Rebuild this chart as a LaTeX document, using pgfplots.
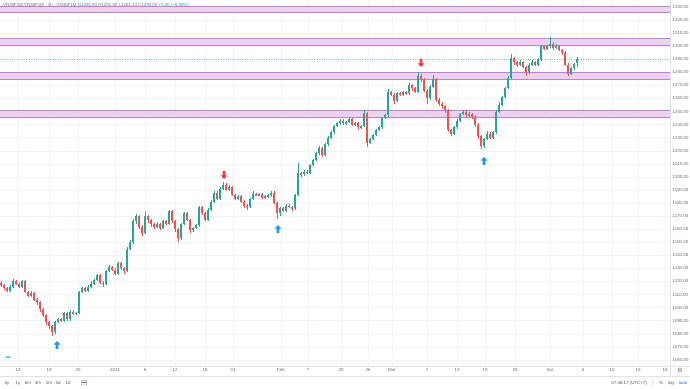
\documentclass[border=0pt]{standalone}
\usepackage{fontspec}
\setmainfont{Liberation Sans}
\newfontfamily\dejavu{DejaVu Sans}
\usepackage{pgfplots}
\usepackage{pgfplotstable}
\pgfplotsset{compat=1.18}
\definecolor{upc}{HTML}{26A69A}
\definecolor{dnc}{HTML}{EF5350}
\definecolor{gridc}{HTML}{F0F3FA}
\definecolor{bandfill}{HTML}{EBD3F0}
\definecolor{bandline}{HTML}{C27FD4}
\definecolor{txtc}{HTML}{6A6D78}
\definecolor{sepc}{HTML}{E0E3EB}
\definecolor{arrred}{HTML}{F23645}
\definecolor{arrblue}{HTML}{2196F3}
\definecolor{tvblue}{HTML}{2962FF}
\newcommand\tvf{\fontsize{4.4}{5.2}\selectfont}

\pgfdeclareplotmark{tvup}{%
  \pgfpathmoveto{\pgfpoint{0pt}{4pt}}%
  \pgfpathlineto{\pgfpoint{3.3pt}{0.4pt}}%
  \pgfpathlineto{\pgfpoint{1.3pt}{0.4pt}}%
  \pgfpathlineto{\pgfpoint{1.3pt}{-4pt}}%
  \pgfpathlineto{\pgfpoint{-1.3pt}{-4pt}}%
  \pgfpathlineto{\pgfpoint{-1.3pt}{0.4pt}}%
  \pgfpathlineto{\pgfpoint{-3.3pt}{0.4pt}}%
  \pgfpathclose\pgfusepathqfill}
\pgfdeclareplotmark{tvdown}{%
  \pgfpathmoveto{\pgfpoint{0pt}{-4pt}}%
  \pgfpathlineto{\pgfpoint{3.3pt}{-0.4pt}}%
  \pgfpathlineto{\pgfpoint{1.3pt}{-0.4pt}}%
  \pgfpathlineto{\pgfpoint{1.3pt}{4pt}}%
  \pgfpathlineto{\pgfpoint{-1.3pt}{4pt}}%
  \pgfpathlineto{\pgfpoint{-1.3pt}{-0.4pt}}%
  \pgfpathlineto{\pgfpoint{-3.3pt}{-0.4pt}}%
  \pgfpathclose\pgfusepathqfill}

\pgfplotstableread{
x o h l c
1 1119 1120 1116 1117
4 1117 1118 1113.5 1115
7 1115 1116 1112 1113
10 1113 1117 1112 1116
13 1116 1121.5 1115 1120
16 1120 1121 1117 1118
19 1118 1119 1115 1116
22 1116 1121 1115 1120
25 1120 1121 1111 1112
28 1112 1113 1108 1109
31 1109 1112.5 1108 1111
34 1111 1112 1105 1106
37 1106 1107 1102 1104
40 1104 1105 1097 1099
43 1099 1100 1093 1094
46 1094 1095 1087 1089
49 1089 1090 1084 1086
52 1086 1087 1078 1081
55 1081 1090 1080 1089
58 1089 1092 1088 1091
61 1091 1092 1089 1090
64 1090 1097 1089 1096
67 1096 1097 1090 1091
70 1091 1098.5 1090 1097
73 1097 1098 1094 1095
76 1095 1097 1094 1096
79 1096 1113 1095 1112
82 1112 1116 1111 1115
85 1115 1116 1112 1113
88 1113 1117 1112 1116
91 1116 1120 1115 1118
94 1118 1122 1117 1121
97 1121 1126 1120 1125
100 1125 1126 1118 1119
103 1119 1120 1116 1118
106 1118 1129 1117 1128
109 1128 1132.5 1127 1131
112 1131 1132 1128 1129
115 1129 1130 1125 1126
118 1126 1135 1125 1134
121 1134 1135 1129 1130
124 1130 1131 1126 1128
127 1128 1146 1127 1145
130 1145 1152 1144 1150
133 1150 1168 1149 1166
136 1166 1171.5 1164 1170
139 1170 1171 1160 1162
142 1162 1163 1155 1157
145 1157 1173 1156 1170
148 1170 1171 1165 1167
151 1167 1168 1162 1164
154 1164 1165 1160 1162
157 1162 1165.5 1161 1164
160 1164 1165 1159 1161
163 1161 1167 1160 1166
166 1166 1167 1163 1164
169 1164 1175 1163 1174
172 1174 1175 1165 1166
175 1166 1167 1158 1160
178 1160 1161 1150 1153
181 1153 1165 1152 1164
184 1164 1173.5 1163 1172
187 1172 1173 1166 1167
190 1167 1168 1157 1159
193 1159 1162 1158 1161
196 1161 1164 1160 1163
199 1163 1178 1162 1177
202 1177 1178 1171 1172
205 1172 1173 1166 1167
208 1167 1176 1166 1175
211 1175 1182 1174 1181
214 1181 1189 1180 1188
217 1188 1189 1182 1183
220 1183 1192 1182 1191
223 1191 1196 1190 1194
226 1194 1195 1189 1190
229 1190 1193.5 1189 1192
232 1192 1193 1185 1186
235 1186 1187 1182 1183
238 1183 1186 1182 1185
241 1185 1186 1180 1181
244 1181 1182 1176 1178
247 1178 1179 1175 1177
250 1177 1184 1176 1183
253 1183 1189 1182 1187
256 1187 1188 1185 1186
259 1186 1188 1185 1187
262 1187 1188 1183 1184
265 1184 1186 1183 1185
268 1185 1187 1184 1186
271 1186 1189.5 1185 1188
274 1188 1189 1179 1180
277 1180 1181 1168 1172
280 1172 1177 1170 1176
283 1176 1177 1173 1174
286 1174 1179 1173 1178
289 1178 1179 1176 1177
292 1177 1178 1174 1176
295 1176 1187 1175 1186
298 1186 1211 1185 1203
301 1203 1204 1200 1202
304 1202 1205 1201 1204
307 1204 1205 1202 1203
310 1203 1210 1202 1209
313 1209 1214 1208 1213
316 1213 1219 1212 1218
319 1218 1223.5 1217 1222
322 1222 1223 1215 1217
325 1217 1226 1216 1225
328 1225 1231 1224 1230
331 1230 1235 1229 1234
334 1234 1240 1233 1239
337 1239 1242 1238 1241
340 1241 1244.5 1240 1243
343 1243 1244 1240 1241
346 1241 1243 1240 1242
349 1242 1245.5 1241 1244
352 1244 1245 1239 1240
355 1240 1242 1239 1241
358 1241 1242 1236 1238
361 1238 1240 1237 1239
364 1239 1251 1238 1249
367 1249 1250 1223 1226
370 1226 1230 1225 1229
373 1229 1233 1228 1232
376 1232 1237 1231 1236
379 1236 1239 1235 1238
382 1238 1246 1237 1245
385 1245 1248.5 1244 1247
388 1247 1267 1246 1265
391 1265 1266 1262 1263
394 1263 1264 1256 1258
397 1258 1265 1257 1264
400 1264 1265 1262 1263
403 1263 1266 1262 1265
406 1265 1266 1263 1264
409 1264 1272 1263 1270
412 1270 1271 1266 1268
415 1268 1269 1264 1265
418 1265 1280 1264 1277
421 1277 1279 1273 1275
424 1275 1276 1265 1266
427 1266 1267 1256 1260
430 1260 1270 1259 1269
433 1269 1278 1268 1275
436 1275 1276 1257 1259
439 1259 1260 1254 1256
442 1256 1257 1252 1254
445 1254 1255 1249 1251
448 1251 1252 1234 1236
451 1236 1237 1231 1233
454 1233 1239 1232 1238
457 1238 1244 1237 1243
460 1243 1249 1242 1248
463 1248 1251.5 1247 1250
466 1250 1251 1246 1247
469 1247 1249.5 1246 1248
472 1248 1249 1244 1246
475 1246 1247 1238 1240
478 1240 1241 1229 1231
481 1231 1232 1221 1224
484 1224 1230 1222 1229
487 1229 1235 1228 1233
490 1233 1234 1229 1230
493 1230 1235 1229 1234
496 1234 1251 1233 1250
499 1250 1257 1249 1255
502 1255 1262 1254 1261
505 1261 1269 1260 1268
508 1268 1277 1267 1276
511 1276 1294 1275 1291
514 1291 1292 1286 1288
517 1288 1289 1284 1286
520 1286 1289.5 1285 1288
523 1288 1289 1283 1284
526 1284 1285 1277 1280
529 1280 1287 1279 1286
532 1286 1289.5 1285 1288
535 1288 1289 1285 1286
538 1286 1291 1285 1290
541 1290 1301 1289 1300
544 1300 1301 1297 1298
547 1298 1301 1297 1300
550 1300 1307 1299 1302
553 1302 1303 1297 1299
556 1299 1301.5 1298 1300
559 1300 1301 1296 1297
562 1297 1298 1293 1295
565 1295 1296 1285 1286
568 1286 1287 1277 1279
571 1279 1284 1278 1283
574 1283 1287.5 1282 1286.7
577 1286.9 1291.9 1284.1 1290
}\candles

\begin{document}
\begin{tikzpicture}
\path[use as bounding box] (0,0) rectangle (690pt,388pt);
\begin{axis}[
  at={(0pt,22pt)}, anchor=south west,
  scale only axis, width=670pt, height=366pt,
  xmin=0, xmax=670, ymin=1055.3, ymax=1335.36,
  axis line style={draw=none},
  major tick length=0pt, tick style={draw=none},
  ytick={1060,1070,...,1330},
  yticklabel pos=right,
  yticklabel style={font=\tvf, color=txtc, anchor=west, inner sep=0pt, xshift=2.5pt,
    /pgf/number format/.cd, fixed, fixed zerofill, precision=2, 1000 sep={}, assume math mode=true},
  xtick={18,49,78,115,145,175,205,233,281,308,341,368,392,427,457,485,515,550,583,612,638,665},
  xticklabels={13,19,25,2024,6,12,18,24,Feb,7,20,26,Mar,7,13,19,25,Apr,5,10,15,18},
  xticklabel style={font=\tvf, color=txtc, anchor=north, inner sep=0pt, yshift=-2.3pt},
  grid=major, major grid style={draw=gridc, line width=0.4pt},
  candle/.style={draw=none, mark=none, forget plot, error bars/.cd, y dir=both, y explicit, error mark=none},
]
% zones
\addplot[draw=bandline, line width=0.6pt, fill=bandfill] coordinates {(-2,1325.8) (672,1325.8) (672,1330.8) (-2,1330.8)} -- cycle;
\addplot[draw=bandline, line width=0.6pt, fill=bandfill] coordinates {(-2,1300.6) (672,1300.6) (672,1305.8) (-2,1305.8)} -- cycle;
\addplot[draw=bandline, line width=0.6pt, fill=bandfill] coordinates {(-2,1274.8) (672,1274.8) (672,1279.8) (-2,1279.8)} -- cycle;
\addplot[draw=bandline, line width=0.6pt, fill=bandfill] coordinates {(-2,1245.9) (672,1245.9) (672,1251.0) (-2,1251.0)} -- cycle;
% last price line
\addplot[draw=upc!60, dotted, line width=0.4pt] coordinates {(0,1290) (670,1290)};
% wicks
\addplot[restrict expr to domain={\thisrow{c}-\thisrow{o}}{0:1000}, candle,
  error bar style={draw=upc, solid, line width=0.5pt}]
  table[x=x, y expr={(\thisrow{h}+\thisrow{l})/2}, y error expr={(\thisrow{h}-\thisrow{l})/2}] {\candles};
\addplot[restrict expr to domain={\thisrow{c}-\thisrow{o}}{-1000:-0.0001}, candle,
  error bar style={draw=dnc, solid, line width=0.5pt}]
  table[x=x, y expr={(\thisrow{h}+\thisrow{l})/2}, y error expr={(\thisrow{h}-\thisrow{l})/2}] {\candles};
% bodies
\addplot[restrict expr to domain={\thisrow{c}-\thisrow{o}}{0:1000}, candle,
  error bar style={draw=upc, solid, line width=1.9pt}]
  table[x=x, y expr={(\thisrow{o}+\thisrow{c})/2}, y error expr={abs(\thisrow{c}-\thisrow{o})/2}] {\candles};
\addplot[restrict expr to domain={\thisrow{c}-\thisrow{o}}{-1000:-0.0001}, candle,
  error bar style={draw=dnc, solid, line width=1.9pt}]
  table[x=x, y expr={(\thisrow{o}+\thisrow{c})/2}, y error expr={abs(\thisrow{c}-\thisrow{o})/2}] {\candles};
% signal arrows
\addplot[only marks, mark=tvdown, color=arrred] coordinates {(224,1201.5) (421,1287.2)};
\addplot[only marks, mark=tvup, color=arrblue] coordinates {(57,1071.4) (278,1160.1) (484,1212.2)};
\end{axis}
% separators
\draw[sepc, line width=0.5pt] (670pt,12pt) -- (670pt,388pt);
\draw[sepc, line width=0.5pt] (0pt,22pt) -- (690pt,22pt);
\draw[sepc, line width=0.5pt] (0pt,12pt) -- (690pt,12pt);
% title
\node[anchor=west, inner sep=0pt, font=\tvf] at (3pt,383pt) {{\color{txtc}VN30F1M,VN30F1M · 1h · VN30F1M} {\color{upc}O1286.90 H1291.90 L1284.10 C1290.00 +3.30 (+0.26\%)}};
% bottom toolbar
\foreach \t/\xx in {5y/7,1y/18,6m/28,3m/38,1m/49,5d/58,1d/68}
  \node[inner sep=0pt, font=\tvf, color=txtc!80!black] at (\xx pt,5pt) {\t};
\draw[txtc, line width=0.4pt, rounded corners=0.5pt] (81.5pt,3pt) rectangle (86.5pt,7.5pt);
\draw[txtc, line width=0.4pt] (81.5pt,6pt) -- (86.5pt,6pt);
\node[anchor=east, inner sep=0pt, font=\tvf, color=txtc!80!black] at (647pt,5pt) {07:48:17 (UTC+7)};
\draw[sepc, line width=0.5pt] (652pt,2pt) -- (652pt,8pt);
\node[inner sep=0pt, font=\tvf, color=txtc!80!black] at (661pt,5pt) {\%};
\node[inner sep=0pt, font=\tvf, color=txtc!80!black] at (671pt,5pt) {log};
\node[inner sep=0pt, font=\tvf, color=tvblue] at (683pt,5pt) {auto};
\node[inner sep=0pt, font={\dejavu\fontsize{6}{6}\selectfont}, color=txtc] at (680pt,17.5pt) {⚙};
\node[inner sep=0pt, font={\dejavu\fontsize{6}{6}\selectfont}, color=arrblue!70] at (8pt,31pt) {☁};
\end{tikzpicture}
\end{document}
